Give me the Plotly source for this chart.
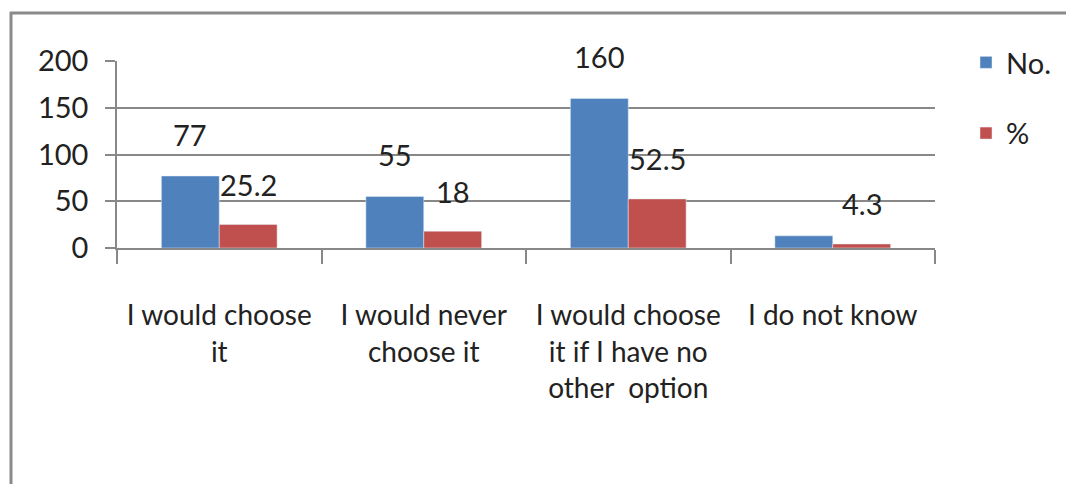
import plotly.graph_objects as go

categories = ["I would choose<br>it", "I would never<br>choose it",
              "I would choose<br>it if I have no<br>other  option", "I do not know"]
counts = [77, 55, 160, 13]
percents = [25.2, 18, 52.5, 4.3]
count_labels = ["77", "55", "160", None]
percent_labels = ["25.2", "18", "52.5", "4.3"]

BLUE = "#4F81BD"
RED = "#C0504D"
FONT = "Lato, Liberation Sans, sans-serif"
FS = 29
W, H = 1066, 484
L, R, T, B = 117, 131, 61, 236
pw, ph = W - L - R, H - T - B

fig = go.Figure()
fig.add_trace(go.Bar(x=categories, y=counts, name="No.", marker_color=BLUE,
                     legendgroup="a"))
fig.add_trace(go.Bar(x=categories, y=percents, name="%", marker_color=RED,
                     legendgroup="b"))

bargap = 0.434
half = (1 - bargap) / 4  # offset of each bar's centre from the category centre

annotations = []
for i in range(4):
    if count_labels[i]:
        annotations.append(dict(x=i - half, y=counts[i], text=count_labels[i],
                                showarrow=False, yshift=42, yanchor="middle",
                                font=dict(size=FS, color="#222", family=FONT)))
    if percent_labels[i]:
        annotations.append(dict(x=i + half, y=percents[i], text=percent_labels[i],
                                showarrow=False, yshift=40, yanchor="middle",
                                font=dict(size=FS, color="#222", family=FONT)))


def px_x(v):
    return (v - L) / pw


def px_y(v):
    return (H - B - v) / ph


border = "#8a8a8a"
shapes = [
    dict(type="line", xref="paper", yref="paper", x0=px_x(11), x1=px_x(11),
         y0=px_y(12), y1=px_y(H + 5), line=dict(color=border, width=3)),
    dict(type="line", xref="paper", yref="paper", x0=px_x(10), x1=px_x(W + 5),
         y0=px_y(13), y1=px_y(13), line=dict(color=border, width=3)),
]

fig.update_layout(
    width=W, height=H,
    margin=dict(l=L, r=R, t=T, b=B, autoexpand=False),
    paper_bgcolor="white", plot_bgcolor="white",
    barmode="group", bargap=bargap, bargroupgap=0,
    font=dict(family=FONT, size=FS, color="#222"),
    showlegend=True,
    legend=dict(x=px_x(966), y=px_y(37), xanchor="left", yanchor="top",
                font=dict(size=FS, family=FONT), tracegroupgap=30,
                itemwidth=30, bgcolor="rgba(0,0,0,0)"),
    annotations=annotations,
    shapes=shapes,
)
fig.update_xaxes(
    type="category", range=[-0.5, 3.5], tickson="boundaries", ticks="outside",
    ticklen=14, tickcolor="#888", tickwidth=1.5, showline=True, linecolor="#888",
    linewidth=1.5, showgrid=False, ticklabelstandoff=42, tickangle=0,
    tickfont=dict(size=28, family=FONT, color="#222"),
)
fig.update_yaxes(
    range=[0, 200], tickvals=[0, 50, 100, 150, 200], ticks="outside", ticklen=10,
    tickcolor="#888", tickwidth=1.5, showline=True, linecolor="#888", linewidth=1.5,
    showgrid=True, gridcolor="#888", gridwidth=1.5, zeroline=False,
    ticklabelstandoff=11, tickfont=dict(size=FS, family=FONT, color="#222"),
)

fig.write_html("out.html")
